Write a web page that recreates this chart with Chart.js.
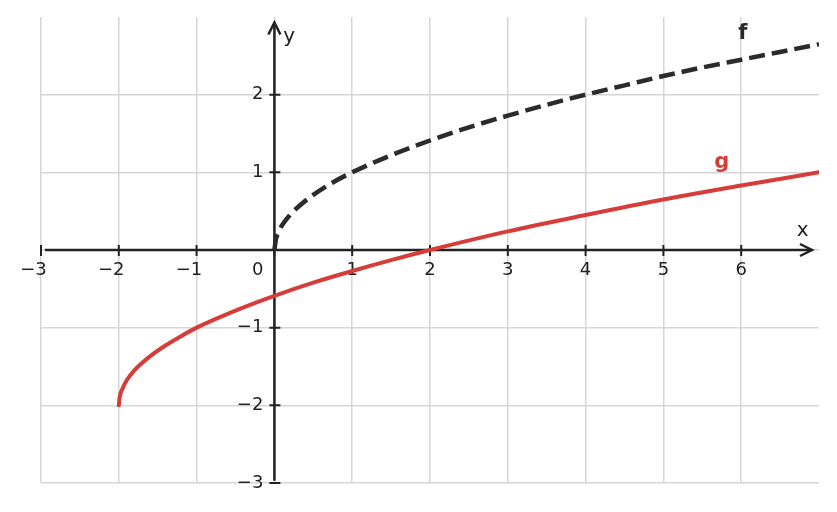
<!DOCTYPE html>
<html>
<head>
<meta charset="utf-8">
<script src="https://cdn.jsdelivr.net/npm/chart.js@4/dist/chart.umd.min.js"></script>
<style>
  html, body { margin: 0; padding: 0; background: #fff; }
  #wrap { width: 837px; height: 512px; }
</style>
</head>
<body>
<div id="wrap"><canvas id="chart"></canvas></div>
<script>
// tick values shown along the axes
const xTicks = [-3, -2, -1, 0, 1, 2, 3, 4, 5, 6];
const yTicks = [-3, -2, -1, 1, 2];

// f
const fX = [0, 0.02, 0.05, 0.1, 0.2, 0.3, 0.5, 0.75, 1, 1.5, 2, 2.5, 3, 3.5, 4, 4.5, 5, 5.5, 6, 6.5, 7];
const fY = [0, 0.14, 0.22, 0.32, 0.45, 0.55, 0.71, 0.87, 1, 1.22, 1.41, 1.58, 1.73, 1.87, 2, 2.12, 2.24, 2.35, 2.45, 2.55, 2.65];

// g
const gX = [-2, -1.99, -1.95, -1.9, -1.8, -1.6, -1.4, -1.2, -1, -0.5, 0, 0.5, 1, 1.5, 2, 3, 4, 5, 6, 7];
const gY = [-2, -1.9, -1.78, -1.68, -1.55, -1.37, -1.23, -1.11, -1, -0.78, -0.59, -0.42, -0.27, -0.13, 0, 0.24, 0.45, 0.65, 0.83, 1];

const INK = '#222222';
const RED = '#d63c38';
const FONT = '"DejaVu Sans", sans-serif';

function fmt(v) {
    return v < 0 ? '\u2212' + Math.abs(v) : String(v);
}

function toPoints(xs, ys) {
    return xs.map((x, i) => ({ x: x, y: ys[i] }));
}

const originAxes = {
    id: 'originAxes',
    beforeDatasetsDraw(chart) {
        const { ctx, scales: { x, y } } = chart;
        const x0 = x.getPixelForValue(0);
        const y0 = y.getPixelForValue(0);
        ctx.save();
        ctx.strokeStyle = INK;
        ctx.fillStyle = INK;
        ctx.lineCap = 'butt';

        // axis lines
        ctx.lineWidth = 2.5;
        const xs = x.getPixelForValue(-2.95), xe = x.getPixelForValue(6.91);
        const yb = y.getPixelForValue(-2.97), yt = y.getPixelForValue(2.93);
        ctx.beginPath();
        ctx.moveTo(xs, y0); ctx.lineTo(xe, y0);
        ctx.moveTo(x0, yb); ctx.lineTo(x0, yt);
        ctx.stroke();

        // arrow heads
        ctx.lineJoin = 'miter';
        ctx.beginPath();
        ctx.moveTo(xe - 12, y0 - 6); ctx.lineTo(xe, y0); ctx.lineTo(xe - 12, y0 + 6);
        ctx.moveTo(x0 - 6, yt + 12); ctx.lineTo(x0, yt); ctx.lineTo(x0 + 6, yt + 12);
        ctx.stroke();

        // tick marks
        ctx.lineWidth = 2;
        ctx.beginPath();
        xTicks.forEach(v => {
            const px = x.getPixelForValue(v);
            ctx.moveTo(px, y0 - 5); ctx.lineTo(px, y0 + 6);
        });
        yTicks.forEach(v => {
            const py = y.getPixelForValue(v);
            ctx.moveTo(x0 - 5, py); ctx.lineTo(x0 + 6, py);
        });
        ctx.stroke();

        // tick labels
        ctx.font = '18px ' + FONT;
        ctx.textBaseline = 'middle';
        xTicks.forEach(v => {
            const px = x.getPixelForValue(v);
            if (v === 0) {
                ctx.textAlign = 'right';
                ctx.fillText('0', x0 - 11, y0 + 20);
                return;
            }
            const digitW = ctx.measureText(String(Math.abs(v))).width;
            ctx.textAlign = 'right';
            ctx.fillText(fmt(v), px + digitW / 2, y0 + 20);
        });
        yTicks.forEach(v => {
            ctx.textAlign = 'right';
            ctx.fillText(fmt(v), x0 - 11, y.getPixelForValue(v));
        });

        // axis names
        ctx.font = '20px ' + FONT;
        ctx.textAlign = 'center';
        ctx.fillText('x', x.getPixelForValue(6.79), y.getPixelForValue(0.245));
        ctx.fillText('y', x.getPixelForValue(0.19), y.getPixelForValue(2.74));
        ctx.restore();
    },
    afterDatasetsDraw(chart) {
        const { ctx, scales: { x, y } } = chart;
        ctx.save();
        ctx.font = 'bold 21px ' + FONT;
        ctx.textAlign = 'center';
        ctx.textBaseline = 'middle';
        ctx.fillStyle = '#2b2b2b';
        ctx.fillText('f', x.getPixelForValue(6.02), y.getPixelForValue(2.79));
        ctx.fillStyle = RED;
        ctx.fillText('g', x.getPixelForValue(5.75), y.getPixelForValue(1.12));
        ctx.restore();
    }
};

function gridColor(max) {
    return c => (c.tick && c.tick.value === max) ? 'rgba(0,0,0,0)' : '#d6d6d6';
}

new Chart(document.getElementById('chart'), {
    type: 'scatter',
    data: {
        datasets: [
            {
                label: 'g',
                data: toPoints(gX, gY),
                showLine: true,
                borderColor: RED,
                borderWidth: 4,
                pointRadius: 0,
                cubicInterpolationMode: 'monotone',
                borderCapStyle: 'round'
            },
            {
                label: 'f',
                data: toPoints(fX, fY),
                showLine: true,
                borderColor: '#2b2b2b',
                borderWidth: 4.5,
                borderDash: [16, 7],
                pointRadius: 0,
                cubicInterpolationMode: 'monotone'
            }
        ]
    },
    options: {
        responsive: true,
        maintainAspectRatio: false,
        animation: false,
        layout: { padding: { left: 41, right: 18, top: 17, bottom: 29 } },
        plugins: {
            legend: { display: false },
            tooltip: { enabled: false }
        },
        scales: {
            x: {
                type: 'linear',
                min: -3, max: 7,
                ticks: { display: false, stepSize: 1 },
                grid: { color: gridColor(7), lineWidth: 1.5, drawTicks: false },
                border: { display: false }
            },
            y: {
                type: 'linear',
                min: -3, max: 3,
                ticks: { display: false, stepSize: 1 },
                grid: { color: gridColor(3), lineWidth: 1.5, drawTicks: false },
                border: { display: false }
            }
        }
    },
    plugins: [originAxes]
});
</script>
</body>
</html>
